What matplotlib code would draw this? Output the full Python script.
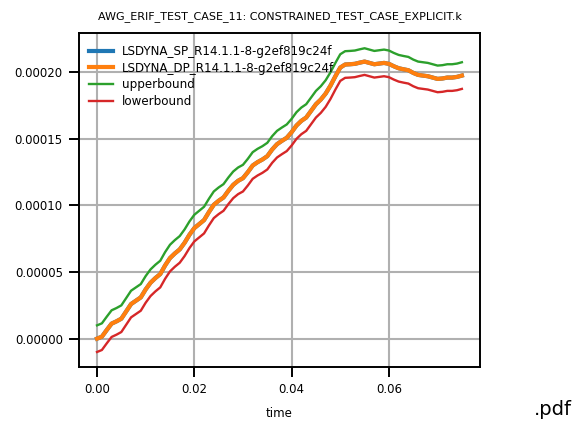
import numpy as np
import matplotlib
matplotlib.use("Agg")
import matplotlib.pyplot as plt

# time in seconds, values in units of 1e-6
time = np.arange(76) * 0.001

dp_vals = [0, 1.5, 6.5, 11.3, 13, 15, 20.5, 26, 28.5, 31,
           37, 42, 45.5, 48.5, 55, 60.5, 64, 67, 72, 78,
           83, 86, 89, 95, 100.5, 103.5, 106, 111, 115.5, 118.5,
           120.5, 125, 130, 132.5, 134.5, 137, 142, 146, 148.5, 150.8,
           155, 160, 163.5, 166, 171, 176, 179.5, 184, 190, 197,
           203.5, 205.8, 206, 206.3, 207.2, 208, 207, 206, 206.5, 207,
           206.3, 204.5, 203, 202.2, 201.5, 199.5, 198, 197.5, 197, 196,
           195, 195.3, 196, 196, 196.5, 197.5]
sp_vals = list(dp_vals)

upper_vals = [10, 11.5, 16.5, 21.3, 23, 25, 30.5, 36, 38.5, 41,
              47, 52, 55.5, 58.5, 65, 70.5, 74, 77, 82, 88,
              93, 96, 99, 105, 110.5, 113.5, 116, 121, 125.5, 128.5,
              130.5, 135, 140, 142.5, 144.5, 147, 152, 156, 158.5, 160.8,
              165, 170, 173.5, 176, 181, 186, 189.5, 194, 200, 207,
              213.5, 215.8, 216, 216.3, 217.2, 218, 217, 216, 216.5, 217,
              216.3, 214.5, 213, 212.2, 211.5, 209.5, 208, 207.5, 207, 206,
              205, 205.3, 206, 206, 206.5, 207.5]

lower_vals = [-10, -8.5, -3.5, 1.3, 3, 5, 10.5, 16, 18.5, 21,
              27, 32, 35.5, 38.5, 45, 50.5, 54, 57, 62, 68,
              73, 76, 79, 85, 90.5, 93.5, 96, 101, 105.5, 108.5,
              110.5, 115, 120, 122.5, 124.5, 127, 132, 136, 138.5, 140.8,
              145, 150, 153.5, 156, 161, 166, 169.5, 174, 180, 187,
              193.5, 195.8, 196, 196.3, 197.2, 198, 197, 196, 196.5, 197,
              196.3, 194.5, 193, 192.2, 191.5, 189.5, 188, 187.5, 187, 186,
              185, 185.3, 186, 186, 186.5, 187.5]

scale = 1e-6
sp = np.array(sp_vals) * scale
dp = np.array(dp_vals) * scale
upper = np.array(upper_vals) * scale
lower = np.array(lower_vals) * scale

plt.rcParams['font.family'] = 'DejaVu Sans'

fig = plt.figure(figsize=(5.75, 4.24), dpi=100)
ax = fig.add_axes([0.137, 0.134, 0.698, 0.788])

ax.plot(time, sp, color='#1f77b4', lw=3.0, label='LSDYNA_SP_R14.1.1-8-g2ef819c24f')
ax.plot(time, dp, color='#ff7f0e', lw=3.0, label='LSDYNA_DP_R14.1.1-8-g2ef819c24f')
ax.plot(time, upper, color='#2ca02c', lw=1.7, label='upperbound')
ax.plot(time, lower, color='#d62728', lw=1.7, label='lowerbound')

ax.grid(True, color='#b0b0b0', lw=1.5)
ax.set_axisbelow(True)
ax.set_xticks([0.0, 0.02, 0.04, 0.06])
ax.set_yticks([0.0, 0.00005, 0.0001, 0.00015, 0.0002])
ax.set_yticklabels(['0.00000', '0.00005', '0.00010', '0.00015', '0.00020'])
ax.set_xticklabels(['0.00', '0.02', '0.04', '0.06'])
ax.tick_params(labelsize=8.5, length=7.5, width=1.4, pad=4)
for s in ax.spines.values():
    s.set_linewidth(1.4)

ax.set_xlabel('time', fontsize=8.5, labelpad=8)
ax.set_title('AWG_ERIF_TEST_CASE_11: CONSTRAINED_TEST_CASE_EXPLICIT.k', fontsize=8, pad=10)
ax.legend(loc='upper left', frameon=False, fontsize=8.6, handlelength=2.0,
          bbox_to_anchor=(-0.005, 1.0), borderaxespad=0.6, labelspacing=0.3)

fig.text(0.962, 0.035, '.pdf', fontsize=14, ha='center', va='center')

fig.savefig('out.png', dpi=100)
